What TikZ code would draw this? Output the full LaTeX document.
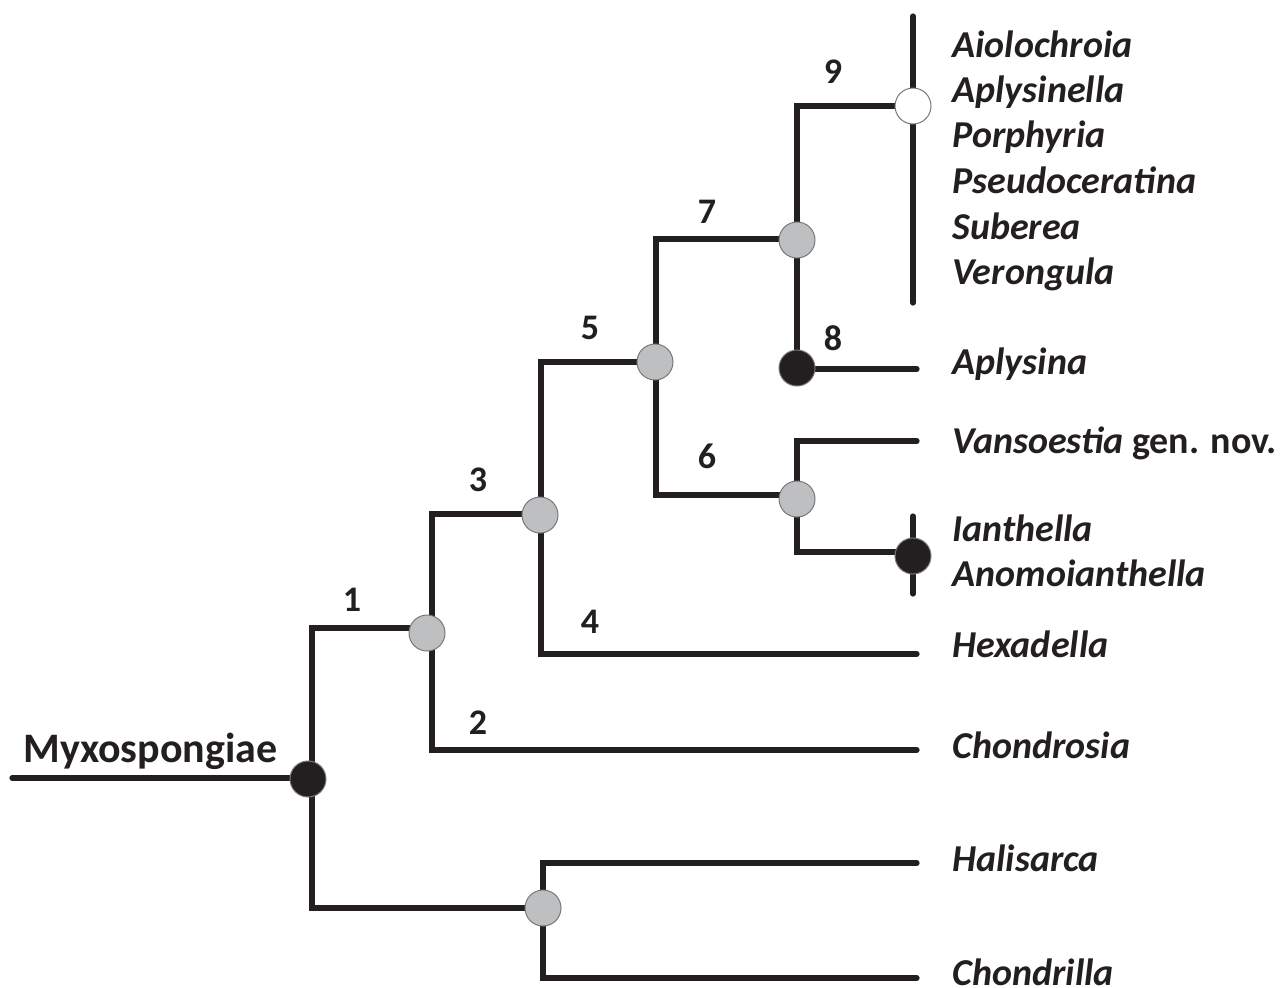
\documentclass[tikz,border=0pt]{standalone}
\usepackage{fontspec}
\setmainfont{Carlito}
\definecolor{treeblack}{RGB}{35,31,32}
\definecolor{dotgray}{RGB}{190,191,193}
\definecolor{rimgray}{RGB}{120,120,120}
\tikzset{
  branch/.style={draw=treeblack,line width=2.6pt,line cap=round},
  dot/.style={circle,minimum size=18pt,inner sep=0pt,draw=rimgray,line width=0.5pt},
  graydot/.style={dot,fill=dotgray},
  blackdot/.style={dot,fill=treeblack},
  whitedot/.style={dot,fill=white},
  taxon/.style={anchor=base west,inner sep=0pt,text=treeblack,
    font=\fontsize{19}{22}\selectfont\bfseries\itshape},
  num/.style={inner sep=0pt,text=treeblack,font=\fontsize{18}{21}\selectfont\bfseries}
}
\begin{document}
\begin{tikzpicture}[x=0.5pt,y=-0.5pt]
        \useasboundingbox (0,0) rectangle (1283,987);
        %% Junctions
        \coordinate (stem) at (12,778);
        \coordinate (root) at (312,778);
        \coordinate (n1) at (432,628);
        \coordinate (n3) at (541,514);
        \coordinate (n5) at (656,362);
        \coordinate (n6) at (797,495);
        \coordinate (n7) at (797,239);
        \coordinate (n8) at (797,369);
        \coordinate (n9) at (913,106);
        \coordinate (nIan) at (913,552);
        \coordinate (nB) at (543,908);
        %% Tips
        \coordinate (tTop) at (913,16);
        \coordinate (tBot) at (913,303);
        \coordinate (tAplysina) at (917,369);
        \coordinate (tVan) at (917,441);
        \coordinate (tIanTop) at (913,516);
        \coordinate (tIanBot) at (913,594);
        \coordinate (tHex) at (917,654);
        \coordinate (tChondrosia) at (917,750);
        \coordinate (tHal) at (917,863);
        \coordinate (tChondrilla) at (917,978);
        %% Branches
        \draw[branch] (stem) -- (root);
        \draw[branch] (n1) -| (root) |- (nB);
        \draw[branch] (n3) -| (n1) |- (tChondrosia);
        \draw[branch] (n5) -| (n3) |- (tHex);
        \draw[branch] (n7) -| (n5) |- (n6);
        \draw[branch] (n9) -| (n7) -- (n8) -- (tAplysina);
        \draw[branch] (tTop) -- (tBot);
        \draw[branch] (tVan) -| (n6) |- (nIan);
        \draw[branch] (tIanTop) -- (tIanBot);
        \draw[branch] (tHal) -| (nB) |- (tChondrilla);
        %% Dots
        \node[blackdot] (dRoot) at (308,779) {};
        \node[graydot] (d1) at (427,633) {};
        \node[graydot] (d3) at (540,515) {};
        \node[graydot] (d5) at (655,362) {};
        \node[graydot] (d6) at (797,499) {};
        \node[graydot] (d7) at (797,240) {};
        \node[blackdot] (d8) at (797,368) {};
        \node[whitedot] (d9) at (913,106) {};
        \node[blackdot] (dIan) at (913,556) {};
        \node[graydot] (dB) at (543,908) {};
        %% Numbers
        \node[num] (l1) at (352,600) {1};
        \node[num] (l2) at (478,723) {2};
        \node[num] (l3) at (478,480) {3};
        \node[num] (l4) at (590,622) {4};
        \node[num] (l5) at (590,328) {5};
        \node[num] (l6) at (707,456) {6};
        \node[num] (l7) at (707,212) {7};
        \node[num] (l8) at (833,338) {8};
        \node[num] (l9) at (833,72) {9};
        %% Taxa
        \node[anchor=base west,inner sep=0pt,text=treeblack,
          font=\fontsize{21}{25}\selectfont\bfseries] (myxo) at (23,762) {Myxospongiae};
        \node[taxon] (aio) at (952,57) {Aiolochroia};
        \node[taxon] (aplysinella) at (952,102) {Aplysinella};
        \node[taxon] (por) at (952,147) {Porphyria};
        \node[taxon] (pse) at (952,193) {Pseudoceratina};
        \node[taxon] (sub) at (952,239) {Suberea};
        \node[taxon] (ver) at (952,284) {Verongula};
        \node[taxon] (aplysina) at (952,374) {Aplysina};
        \node[taxon] (van) at (952,453) {Vansoestia\/ \upshape gen. nov.};
        \node[taxon] (ian) at (952,541) {Ianthella};
        \node[taxon] (ano) at (952,586) {Anomoianthella};
        \node[taxon] (hex) at (952,657) {Hexadella};
        \node[taxon] (chondrosia) at (952,758) {Chondrosia};
        \node[taxon] (hal) at (952,871) {Halisarca};
        \node[taxon] (chondrilla) at (952,985) {Chondrilla};
    \end{tikzpicture}
\end{document}
